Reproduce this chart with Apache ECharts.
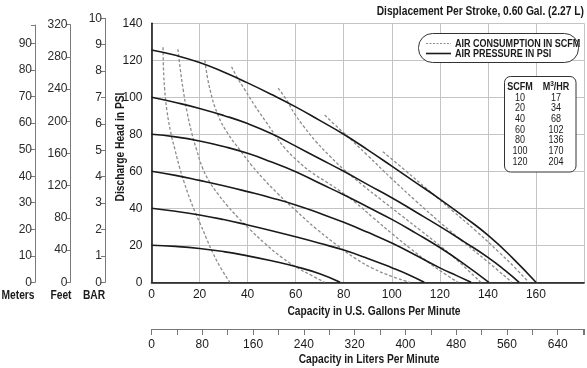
<!DOCTYPE html>
<html>
<head>
<meta charset="utf-8">
<script src="https://cdn.jsdelivr.net/npm/echarts@6/dist/echarts.min.js"></script>
<style>html,body{margin:0;padding:0;background:#fff}#c{width:587px;height:368px}</style>
</head>
<body>
<div id="c"></div>
<script>
// ---- data ----
var gpmTicks = [0,20,40,60,80,100,120,140,160];
var psiTicks = [0,20,40,60,80,100,120,140];
var literTicks = [0,80,160,240,320,400,480,560,640];

var psi20  = [[0,20],[10,19.4],[20,18.3],[30,16.6],[40,14.3],[50,11.6],[60,8.5],[70,4.6],[78.5,0]];
var psi40  = [[0,40],[10,38.4],[20,36.4],[30,33.9],[40,31],[50,27.9],[60,24.6],[70,21.1],[80,17.4],[90,12.9],[100,7.9],[107,4.1],[113.5,0]];
var psi60  = [[0,60],[10,57.8],[20,55.1],[30,52.2],[40,49],[50,45.6],[60,41.8],[70,37.3],[80,32.4],[90,27],[100,21.2],[110,14.6],[120,7.8],[127,3.6],[133,0]];
var psi80  = [[0,80],[10,78.6],[20,76.4],[30,73.4],[40,69.7],[50,65],[60,59.8],[70,53.5],[80,47.3],[90,40.7],[100,34],[110,26.6],[120,18.8],[130,10],[140.4,0]];
var psi100 = [[0,100],[10,97.2],[20,94],[30,90.2],[40,85.8],[50,80.3],[60,73.6],[70,66.8],[80,60],[90,52.8],[100,45.7],[110,38],[120,30.2],[130,22],[140,13.5],[147,6.6],[153,0]];
var psi125 = [[0,125.6],[10,122.7],[20,118.8],[30,113.7],[40,107.8],[50,101.5],[60,94.8],[70,87.5],[80,80],[90,71.6],[100,62.8],[110,53.9],[120,45],[130,35.5],[140,25.5],[150,13.5],[160,0]];

var scfm10  = [[4.8,127],[5,115],[5.5,104],[6.4,93],[8,81],[9.8,71.5],[11.7,62],[13.6,54],[16,45],[18.3,37.5],[20.5,31],[22.8,24],[25.3,16.5],[28.7,8],[32.6,0]];
var scfm20  = [[11,126],[12,115],[13.2,104],[14.8,92],[16.7,81],[18.8,71.5],[21.2,62],[24.3,54],[27.8,47.5],[31.5,41.5],[36,35],[41,28.5],[47,21.2],[54.5,13.2],[61,7.6],[66.5,3.8],[72,0]];
var scfm40  = [[22.2,120],[24.2,105],[27.8,90],[32,80],[36.8,71.5],[41.5,63.5],[46.5,56],[52.5,48],[60.3,38.5],[68.5,29],[78.3,19],[85,12.8],[92,7.6],[100,3.2],[107.5,0]];
var scfm60  = [[33.3,116.5],[36,110],[38.9,104],[43,95.5],[47.5,87],[51.5,79.5],[55.5,72.5],[60.5,66],[66.5,59.5],[72.5,54.5],[78.3,49.5],[85,43],[92,35.2],[100,26.4],[108,18],[115,11],[121,5.5],[127.5,0]];
var scfm80  = [[52.7,105],[56,99],[59.6,91],[63.5,84],[68.5,76],[74,68.5],[80,61],[88,52.4],[96,44.2],[104,36.1],[112,28],[120,19.8],[128,11],[137,0]];
var scfm100 = [[72.1,90.4],[76,85.5],[80.4,80.3],[90,68.5],[100,56],[110,44],[120,32.5],[130,21.6],[140,11],[150,0]];
var scfm120 = [[96.3,70.6],[105.4,60.7],[115,50],[125,39],[135,27.8],[145,15.8],[151,8.2],[157,0]];

var scfmList = [10,20,40,60,80,100,120];
var m3hrList = [17,34,68,102,136,170,204];

var GAL_TO_L = 3.78541;
// ---- styles ----
var FONT = "'Liberation Sans',Arial,sans-serif";
var NX = 0.82; // narrow-font emulation for free text
var INK = '#1a1a1a';

var pressureCurves = [psi20, psi40, psi60, psi80, psi100, psi125];
var airCurves = [
  {name:'10', data:scfm10, pos:'top', off:[0,0]},
  {name:'20', data:scfm20, pos:'top', off:[1,0]},
  {name:'40', data:scfm40, pos:'top', off:[2,1]},
  {name:'60', data:scfm60, pos:'right', off:[0,0]},
  {name:'80', data:scfm80, pos:'top', off:[0,0]},
  {name:'100', data:scfm100, pos:'top', off:[-2,0]},
  {name:'120', data:scfm120, pos:'top', off:[-5,2]}
];

var series = [];
pressureCurves.forEach(function(d,i){
  series.push({type:'line', name:'psi'+i, xAxisIndex:0, yAxisIndex:0, data:d, smooth:0.5,
    symbol:'none', lineStyle:{color:INK, width:1.6}, z:3, silent:true});
});
airCurves.forEach(function(c){
  var data = c.data.map(function(p,j){
    if (j===0) return {value:p, label:{show:true, formatter:c.name, position:c.pos, distance:2, offset:c.off,
      fontFamily:FONT, fontSize:10.5, color:INK}};
    return {value:p};
  });
  series.push({type:'line', name:'scfm'+c.name, xAxisIndex:0, yAxisIndex:0, data:data, smooth:0.45,
    symbol:'circle', symbolSize:0, showSymbol:true, showAllSymbol:true, itemStyle:{opacity:0},
    label:{show:false}, lineStyle:{color:'#8c8c8c', width:1.3, type:[3,2]}, z:2, silent:true});
});

var plotTop = 23.3, plotBottom = 282.3, H = 368;
var sideAxis = function(gi, maxV, step){
  return {gridIndex:gi, type:'value', min:0, max:maxV, interval:step, position:'left',
    axisLine:{show:true, lineStyle:{color:'#7a7a7a', width:1}},
    axisTick:{show:true, length:4, lineStyle:{color:'#7a7a7a'}},
    axisLabel:{margin:3, fontFamily:FONT, fontSize:12, color:'#2a2a2a',
      formatter:function(v){ return (Math.abs(v/step - Math.round(v/step))<1e-6 && v<=maxV) ? String(v) : ''; }},
    splitLine:{show:false}};
};
var metersAxis = sideAxis(1, 97, 10);
metersAxis.axisLabel.formatter = function(v){ return (v%10===0 && v<=90) ? String(v) : ''; };

function txt(x, y, s, font, align, extra){
  var o = {type:'text', x:x, y:y, scaleX:NX, style:{text:s, font:font+' '+FONT, fill:INK, align:align||'center', verticalAlign:'middle'}, z:11};
  if (extra) for (var k in extra) o[k] = extra[k];
  return o;
}

var graphic = [
  txt(584, 12, 'Displacement Per Stroke, 0.60 Gal. (2.27 L)', 'bold 12.5px', 'right'),
  txt(121, 147, 'Discharge Head in PSI', 'bold 12.5px', 'center', {rotation:Math.PI/2}),
  txt(374, 312, 'Capacity in U.S. Gallons Per Minute', 'bold 12.5px'),
  txt(369, 360, 'Capacity in Liters Per Minute', 'bold 12.5px'),
  txt(18, 296, 'Meters', 'bold 12.5px'),
  txt(61, 296, 'Feet', 'bold 12.5px'),
  txt(94, 296, 'BAR', 'bold 12.5px'),
  // legend box
  {type:'rect', shape:{x:418.5, y:33.5, width:160, height:29, r:14}, style:{fill:'#fff', stroke:'#333', lineWidth:1}, z:10},
  {type:'line', shape:{x1:426, y1:43.5, x2:451, y2:43.5}, style:{stroke:'#8c8c8c', lineWidth:1.2, lineDash:[2,1.5]}, z:11},
  {type:'line', shape:{x1:426, y1:53.5, x2:451, y2:53.5}, style:{stroke:INK, lineWidth:1.6}, z:11},
  txt(455, 43.5, 'AIR CONSUMPTION IN SCFM', 'bold 11px', 'left'),
  txt(455, 53.5, 'AIR PRESSURE IN PSI', 'bold 11px', 'left'),
  // table box
  {type:'rect', shape:{x:504.5, y:76.5, width:71.5, height:95.5, r:6}, style:{fill:'#fff', stroke:'#333', lineWidth:1}, z:10},
  txt(520, 86.5, 'SCFM', 'bold 11px'),
  {type:'text', x:556, y:86.5, scaleX:NX, style:{rich:{a:{font:'bold 11px '+FONT, fill:INK}, s:{font:'bold 8px '+FONT, fill:INK, verticalAlign:'top', padding:[0,0,5,0]}}, text:'{a|M}{s|3}{a|/HR}', align:'center', verticalAlign:'middle'}, z:11}
];
scfmList.forEach(function(v,i){
  var y = 97.5 + i*10.7;
  graphic.push(txt(520, y, String(v), '11px'));
  graphic.push(txt(556, y, String(m3hrList[i]), '11px'));
});

var option = {
  animation:false,
  backgroundColor:'#fff',
  grid:[
    {left:151.5, right:2.4, top:plotTop, bottom:H-plotBottom},
    {left:35, width:1, top:25, bottom:H-plotBottom},
    {left:70.5, width:1, top:24.7, bottom:H-plotBottom},
    {left:105, width:1, top:18.3, bottom:H-plotBottom},
    {left:151.5, right:2.4, top:328, height:1}
  ],
  xAxis:[
    {gridIndex:0, type:'value', min:0, max:180, interval:20,
      axisLine:{show:true, onZero:false, lineStyle:{color:INK, width:1.6}},
      axisTick:{show:false},
      axisLabel:{margin:6, fontFamily:FONT, fontSize:12, color:INK,
        formatter:function(v){ return gpmTicks.indexOf(v)>=0 ? String(v) : ''; }},
      splitLine:{show:true, lineStyle:{color:'#c4c4c4', width:1}}},
    {gridIndex:0, type:'value', min:0, max:180, position:'top',
      axisLine:{show:true, lineStyle:{color:'#333', width:1.2}}, axisTick:{show:false}, axisLabel:{show:false}, splitLine:{show:false}},
    {gridIndex:1, type:'value', show:false, min:0, max:1},
    {gridIndex:2, type:'value', show:false, min:0, max:1},
    {gridIndex:3, type:'value', show:false, min:0, max:1},
    {gridIndex:4, type:'value', min:0, max:180*GAL_TO_L, interval:40, position:'bottom',
      axisLine:{show:true, lineStyle:{color:'#777', width:1}},
      axisTick:{show:true, length:6, lineStyle:{color:'#777'}},
      axisLabel:{margin:10, fontFamily:FONT, fontSize:12, color:INK,
        formatter:function(v){ return literTicks.indexOf(v)>=0 ? String(v) : ''; }},
      splitLine:{show:false}}
  ],
  yAxis:[
    {gridIndex:0, type:'value', min:0, max:140, interval:20,
      axisLine:{show:true, onZero:false, lineStyle:{color:INK, width:1.6}},
      axisTick:{show:false},
      axisLabel:{margin:9, fontFamily:FONT, fontSize:12, color:INK,
        formatter:function(v){ return psiTicks.indexOf(v)>=0 ? String(v) : ''; }},
      splitLine:{show:true, lineStyle:{color:'#c4c4c4', width:1}}},
    metersAxis,
    sideAxis(2, 320, 40),
    sideAxis(3, 10, 1),
    {gridIndex:4, type:'value', show:false, min:0, max:1}
  ],
  series:series,
  graphic:graphic
};
var chart = echarts.init(document.getElementById('c'), null, {renderer:'canvas'});
chart.setOption(option);
</script>
</body>
</html>
